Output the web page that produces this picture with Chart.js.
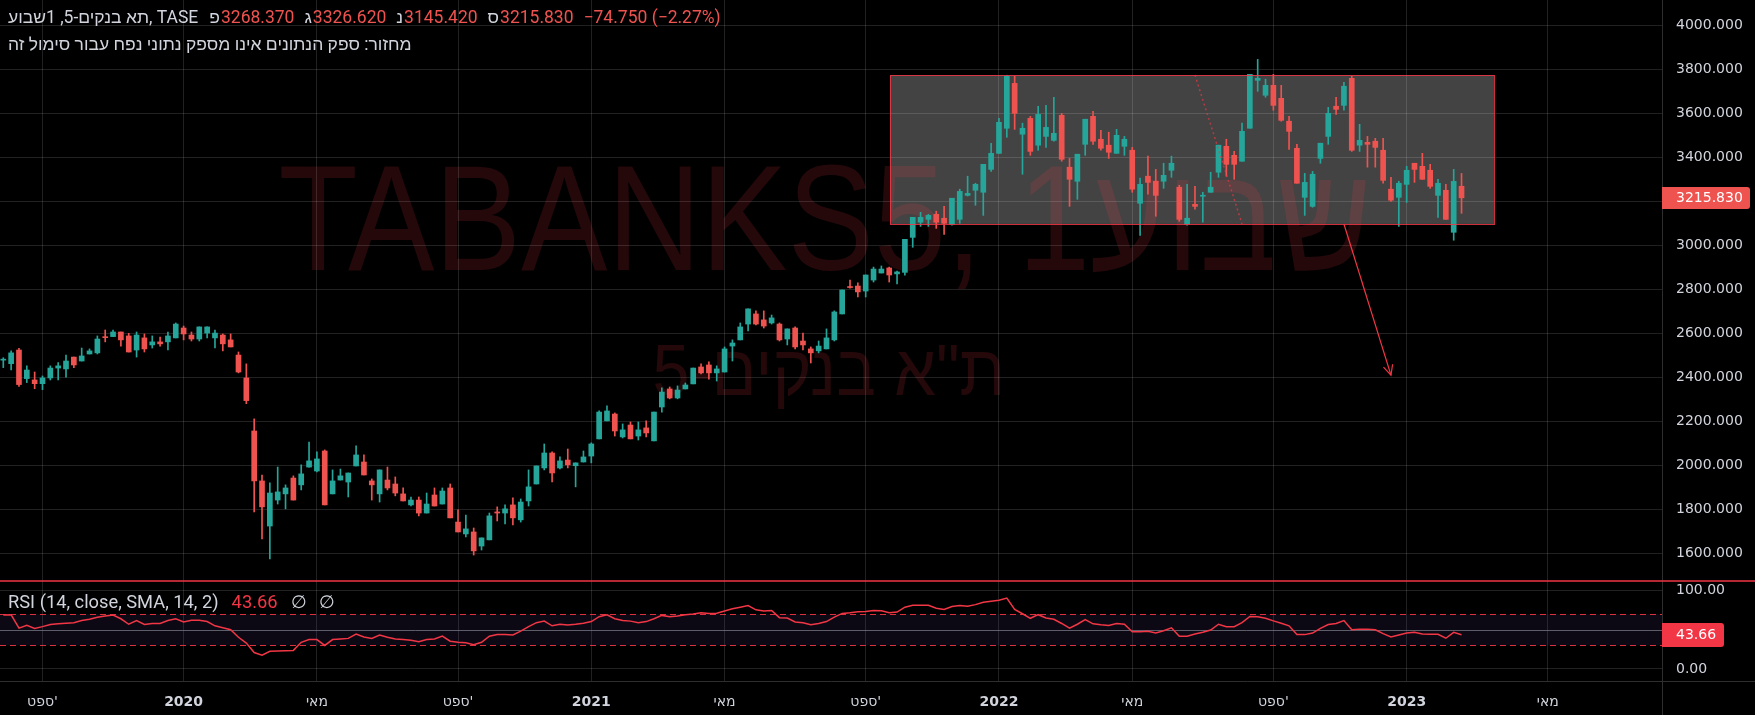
<!DOCTYPE html>
<html><head><meta charset="utf-8">
<script src="https://cdn.jsdelivr.net/npm/chart.js@4.4.1/dist/chart.umd.min.js"></script>
<style>
html,body{margin:0;padding:0;background:#000;overflow:hidden;width:1755px;height:715px}
canvas{position:absolute;left:0}
#c1{top:0}#c2{top:580px}
</style></head><body>
<canvas id="c1" width="1755" height="580"></canvas>
<canvas id="c2" width="1755" height="135"></canvas>
<script>
// ---------- data (weekly candles, index 0 = first visible week, Jul 2019) ----------
const OPEN=[2478,2462,2524,2394,2388,2371,2397,2442,2438,2492,2474,2506,2511,2583,2585,2606,2588,2524,2579,2547,
2561,2561,2579,2624,2592,2574,2601,2579,2592,2570,2501,2397,2156,1929,1724,1842,1870,1942,1911,1992,
1974,2065,1870,1933,1924,1997,2015,1929,1870,1933,1915,1870,1820,1842,1783,1865,1824,1897,1742,1688,
1697,1633,1661,1788,1783,1820,1752,1838,1915,1988,2056,1988,2024,1998,2015,2042,2120,2202,2233,2129,
2183,2133,2170,2111,2265,2347,2306,2347,2370,2447,2456,2420,2424,2542,2570,2642,2688,2661,2647,2642,
2574,2624,2565,2529,2520,2529,2570,2688,2811,2815,2792,2842,2874,2897,2870,2877,3036,3105,3118,3141,
3123,3095,3118,3227,3250,3241,3345,3418,3532,3736,3505,3577,3455,3495,3477,3591,3355,3291,3459,3586,
3482,3455,3418,3450,3432,3191,3314,3291,3291,3341,3264,3095,3186,3223,3241,3332,3450,3409,3382,3532,
3750,3682,3727,3668,3564,3441,3218,3177,3395,3495,3632,3636,3759,3455,3468,3473,3432,3255,3218,3277,
3373,3359,3341,3227,3250,3059,3268.37];
const HIGH=[2489,2520,2532,2452,2424,2406,2452,2467,2501,2492,2533,2529,2588,2615,2615,2606,2600,2606,2597,2588,
2583,2606,2647,2633,2606,2629,2629,2615,2597,2597,2515,2461,2211,1956,1920,1992,1911,1952,2002,2106,
2061,2070,1979,1983,1965,2088,2047,1938,1979,1992,1947,1897,1856,1856,1874,1897,1897,1915,1797,1774,
1715,1670,1783,1811,1820,1852,1847,1979,1997,2097,2061,2038,2074,2011,2065,2102,2247,2270,2238,2188,
2197,2197,2202,2242,2352,2356,2361,2374,2442,2461,2470,2452,2538,2570,2647,2711,2702,2702,2683,2647,
2620,2629,2601,2538,2565,2620,2702,2797,2842,2829,2865,2901,2906,2901,2883,3027,3127,3150,3141,3155,
3177,3214,3255,3314,3282,3368,3464,3577,3773,3768,3555,3586,3632,3636,3673,3600,3395,3414,3573,3609,
3523,3514,3527,3495,3445,3305,3405,3345,3373,3405,3273,3277,3268,3241,3332,3455,3482,3427,3555,3777,
3845,3755,3777,3727,3586,3459,3327,3336,3464,3627,3673,3741,3768,3550,3495,3486,3486,3309,3291,3359,
3373,3418,3368,3300,3277,3345,3326.62];
const LOW=[2444,2433,2358,2376,2348,2344,2388,2388,2401,2444,2474,2506,2506,2561,2585,2542,2515,2492,2515,2533,
2542,2524,2579,2570,2565,2565,2579,2533,2520,2538,2420,2280,1788,1665,1574,1824,1802,1842,1888,1992,
1970,1820,1870,1933,1856,1997,1956,1842,1833,1888,1861,1838,1815,1770,1783,1815,1824,1761,1697,1674,
1592,1615,1661,1747,1733,1729,1742,1815,1915,1979,1924,1983,1988,1902,2015,2011,2120,2202,2133,2124,
2120,2115,2129,2111,2242,2302,2302,2347,2370,2415,2392,2383,2424,2474,2570,2611,2638,2624,2642,2565,
2547,2529,2524,2465,2511,2529,2565,2688,2805,2765,2765,2833,2874,2833,2824,2864,2991,3086,3086,3077,
3050,3091,3100,3224,3182,3136,3336,3418,3491,3527,3323,3409,3432,3445,3473,3382,3177,3209,3409,3459,
3432,3395,3418,3409,3241,3045,3232,3132,3259,3309,3109,3091,3164,3105,3241,3309,3314,3300,3382,3532,
3700,3673,3614,3564,3436,3282,3136,3173,3373,3459,3595,3614,3427,3427,3355,3355,3282,3200,3086,3195,
3286,3300,3259,3127,3118,3023,3145.42];
const CLOSE=[2481,2511,2367,2433,2371,2397,2442,2452,2474,2456,2497,2520,2574,2580,2606,2570,2515,2592,2529,2561,
2552,2588,2642,2597,2574,2629,2629,2601,2552,2538,2424,2294,1929,1811,1874,1879,1897,1842,1961,2020,
2029,1820,1929,1952,1965,2047,1956,1911,1979,1897,1874,1838,1842,1783,1824,1815,1883,1761,1697,1711,
1611,1670,1770,1783,1802,1761,1833,1902,1997,2056,1965,2020,2002,2011,2038,2097,2242,2247,2156,2161,
2120,2161,2147,2242,2333,2306,2342,2365,2442,2420,2420,2438,2529,2556,2629,2711,2642,2633,2670,2570,
2620,2538,2547,2511,2542,2579,2697,2797,2808,2788,2865,2892,2892,2865,2879,3027,3127,3127,3136,3105,
3100,3214,3245,3236,3277,3368,3418,3559,3768,3600,3532,3427,3595,3536,3509,3391,3300,3414,3573,3473,
3441,3423,3500,3482,3255,3277,3286,3227,3318,3373,3118,3123,3177,3227,3264,3455,3368,3368,3518,3777,
3759,3727,3636,3568,3518,3282,3286,3323,3464,3600,3618,3723,3432,3477,3459,3445,3295,3205,3282,3341,
3345,3300,3268,3282,3118,3290.58,3215.83];
const RSI=[68.8,69,52,55.8,51.7,54,56.7,57.5,58.3,59,
61.7,63.3,66,67.5,68.8,64,57,61.7,56.7,58,
58,61.7,64,60,62,62,60.4,55,52.5,50,
40.4,33,21,17.5,22.5,23,23.3,23.7,34,37.5,
37.5,30,37.5,38.3,39,44.6,40.8,39,43.3,40.4,
38.3,37.5,36.7,34.6,37.5,38.3,42,35.4,34,33.3,
31,34,41.7,44,44,43.3,48.3,54,59,61,
55,57,56,57,58.3,60.4,66.7,69,64,61.7,
61,59,60.4,64,68.3,66.7,67.5,69,70,71.7,
70.8,71,74,76.7,78.8,80.8,75.4,73.8,74.6,65.4,
65,60,59,56.3,58,60.4,66,70.8,71.7,73,
73.3,74.6,74.2,71.7,72.5,78.8,81.3,81.3,81.3,77.5,
75.8,79.6,80.8,80,82,85,86.3,87.5,90.4,75.8,
70.4,64.6,69.2,65,63.3,58,52,57,63,57.5,
56.3,55.4,58,57,47.5,47.5,48,45.8,48.8,52.5,
41.7,41.7,44.6,46.7,49.6,57,53.8,53.8,59,67,
66.7,64.6,61.3,58.3,55,44,43.8,45.8,51.7,56.7,
58,61.7,50,50.8,50.8,50,45,40.8,43.3,45.8,
46.7,44.6,44.2,44.2,39.2,46.7,43.66];
const TICK_POS=[5,23,40,58,75,92,110,127,144,162,179,197];
const TICK_LABELS=["ספט'","2020","מאי","ספט'","2021","מאי","ספט'","2022","מאי","ספט'","2023","מאי"];
const YEAR_TICKS=[23,75,127,179];
const PRICE_TICKS=[1600,1800,2000,2200,2400,2600,2800,3000,3200,3400,3600,3800,4000];
const RSI_TICKS=[0,100];
const RSI_BANDS=[30,50,70];
const RECT=[113.1,190.14,3097,3774];          // drawing: index from, index to, price low, price high
const ARROW=[171.0,3097,177.0,2410];          // drawing: index, price -> index, price
const DOTTED=[152.0,3774,158.0,3097];
const TITLE="תא בנקים-5, 1שבוע, TASE";
const OHLC_LETTERS=["פ","ג","נ","ס"];
const CHANGE_TEXT="−74.750 (−2.27%)";
const VOLUME_NOTE="מחזור: ספק הנתונים אינו מספק נתוני נפח עבור סימול זה";
const WM_MAIN="TABANKS5, 1שבוע";
const WM_SUB="ת\"א בנקים-5";
const RSI_TITLE="RSI (14, close, SMA, 14, 2)";

// ---------- setup ----------
const XMIN=-0.42, XMAX=211.57;
const UP='#26a69a', DOWN='#ef5350';
const GRID='rgba(255,255,255,0.13)';
const AXIS_LINE='#2e2e2e';
const TXT='#d1d4dc';
const RED='#f23645';
const IDX=OPEN.map((_,i)=>i);
const COLORS=IDX.map(i=>CLOSE[i]>=OPEN[i]?UP:DOWN);
const N=OPEN.length;

function fitText(ctx,text,cx,baseline,font,width,color){
  ctx.save();
  ctx.font=font; ctx.textAlign='left'; ctx.textBaseline='alphabetic';
  const w=ctx.measureText(text).width;
  const sx=width/w;
  ctx.translate(cx-width/2,baseline); ctx.scale(sx,1);
  ctx.fillStyle=color; ctx.fillText(text,0,0);
  ctx.restore();
}

const pricePlugin={
  id:'pricePlugin',
  beforeDraw(chart){
    const c=chart.ctx, xs=chart.scales.x, ys=chart.scales.y;
    c.save();
    c.fillStyle='#000'; c.fillRect(0,0,chart.width,chart.height);
    const x0=xs.getPixelForValue(RECT[0]), x1=xs.getPixelForValue(RECT[1]);
    const y0=ys.getPixelForValue(RECT[3]), y1=ys.getPixelForValue(RECT[2]);
    c.fillStyle='rgba(112,112,112,0.6)';
    c.fillRect(x0,y0,x1-x0,y1-y0);
    fitText(c,WM_MAIN,825,270,'150px "Liberation Sans", Roboto, sans-serif',1093,'rgba(242,54,69,0.15)');
    fitText(c,WM_SUB,829,395,'72px "Liberation Sans", Roboto, sans-serif',353,'rgba(242,54,69,0.15)');
    c.restore();
  },
  afterDraw(chart){
    const c=chart.ctx, xs=chart.scales.x, ys=chart.scales.y;
    c.save();
    const x0=xs.getPixelForValue(RECT[0]), x1=xs.getPixelForValue(RECT[1]);
    const y0=ys.getPixelForValue(RECT[3]), y1=ys.getPixelForValue(RECT[2]);
    c.strokeStyle='rgba(242,54,69,0.85)'; c.lineWidth=1;
    c.strokeRect(Math.round(x0)+0.5,Math.round(y0)+0.5,Math.round(x1-x0),Math.round(y1-y0));
    c.setLineDash([2,3]); c.strokeStyle='rgba(242,54,69,0.65)'; c.lineWidth=1.5;
    c.beginPath(); c.moveTo(xs.getPixelForValue(DOTTED[0]),ys.getPixelForValue(DOTTED[1]));
    c.lineTo(xs.getPixelForValue(DOTTED[2]),ys.getPixelForValue(DOTTED[3])); c.stroke();
    c.setLineDash([]);
    const ax0=xs.getPixelForValue(ARROW[0]), ay0=ys.getPixelForValue(ARROW[1]);
    const ax1=xs.getPixelForValue(ARROW[2]), ay1=ys.getPixelForValue(ARROW[3]);
    c.strokeStyle=RED; c.lineWidth=1.2;
    c.beginPath(); c.moveTo(ax0,ay0); c.lineTo(ax1,ay1); c.stroke();
    const ang=Math.atan2(ay1-ay0,ax1-ax0);
    c.beginPath();
    c.moveTo(ax1-11*Math.cos(ang-0.45),ay1-11*Math.sin(ang-0.45)); c.lineTo(ax1,ay1);
    c.lineTo(ax1-11*Math.cos(ang+0.45),ay1-11*Math.sin(ang+0.45)); c.stroke();
    const last=CLOSE[N-1], py=ys.getPixelForValue(last);
    c.fillStyle='#ef5350';
    c.beginPath(); c.roundRect(1662,Math.round(py)-11,88,22,[0,3,3,0]); c.fill();
    c.fillStyle='#fff'; c.font='14px "DejaVu Sans", sans-serif'; c.textBaseline='middle'; c.textAlign='left';
    c.fillText(last.toFixed(3),1676,Math.round(py)+0.5);
    c.font='17.5px Roboto, "Liberation Sans", sans-serif';
    let x=8; const y=19;
    const put=(t,col,gap)=>{c.fillStyle=col; c.fillText(t,x,y); x+=c.measureText(t).width+gap;};
    put(TITLE,TXT,11);
    const vals=[OPEN[N-1],HIGH[N-1],LOW[N-1],CLOSE[N-1]];
    for(let k=0;k<4;k++){ put(OHLC_LETTERS[k],TXT,1); put(vals[k].toFixed(3),'#ef5350',10); }
    put(CHANGE_TEXT,'#ef5350',0);
    c.fillStyle=TXT; c.fillText(VOLUME_NOTE,8,46);
    c.restore();
  }
};

new Chart(document.getElementById('c1'),{
  type:'bar',
  data:{datasets:[
    {label:'body',data:IDX.map(i=>({x:i,y:[OPEN[i],CLOSE[i]]})),backgroundColor:COLORS,barThickness:5,grouped:false,minBarLength:1,borderWidth:0},
    {label:'wick',data:IDX.map(i=>({x:i,y:[LOW[i],HIGH[i]]})),backgroundColor:COLORS,barThickness:1,grouped:false,borderWidth:0}
  ]},
  options:{
    responsive:false,animation:false,devicePixelRatio:1,events:[],
    layout:{padding:0},
    plugins:{legend:{display:false},tooltip:{enabled:false}},
    scales:{
      x:{type:'linear',min:XMIN,max:XMAX,offset:false,
        afterBuildTicks:s=>{s.ticks=TICK_POS.map(v=>({value:v}));},
        afterFit:s=>{s.height=0;s.paddingLeft=0;s.paddingRight=0;},
        ticks:{display:false},grid:{color:GRID,drawTicks:false,offset:false},border:{display:false}},
      y:{position:'right',min:1478.6,max:4115,
        afterBuildTicks:s=>{s.ticks=PRICE_TICKS.map(v=>({value:v}));},
        afterFit:s=>{s.width=93;s.paddingTop=0;s.paddingBottom=0;},
        ticks:{padding:14,color:TXT,font:{family:'DejaVu Sans',size:14},callback:v=>Number(v).toFixed(3)},
        grid:{color:GRID,drawTicks:false},border:{color:AXIS_LINE}}
    }
  },
  plugins:[pricePlugin]
});

const rsiPlugin={
  id:'rsiPlugin',
  beforeDraw(chart){
    const c=chart.ctx; c.save(); c.fillStyle='#000'; c.fillRect(0,0,chart.width,chart.height); c.restore();
  },
  beforeDatasetsDraw(chart){
    const c=chart.ctx, ys=chart.scales.y, a=chart.chartArea;
    const yLo=ys.getPixelForValue(RSI_BANDS[0]), yMid=ys.getPixelForValue(RSI_BANDS[1]), yHi=ys.getPixelForValue(RSI_BANDS[2]);
    c.save();
    c.fillStyle='rgba(126,87,194,0.1)'; c.fillRect(a.left,yHi,a.right-a.left,yLo-yHi);
    c.strokeStyle='rgba(120,123,134,0.75)'; c.lineWidth=1;
    c.beginPath(); c.moveTo(a.left,Math.round(yMid)+0.5); c.lineTo(a.right,Math.round(yMid)+0.5); c.stroke();
    c.strokeStyle='rgba(242,54,69,0.9)'; c.setLineDash([6,4]);
    c.beginPath(); c.moveTo(a.left,Math.round(yHi)+0.5); c.lineTo(a.right,Math.round(yHi)+0.5);
    c.moveTo(a.left,Math.round(yLo)+0.5); c.lineTo(a.right,Math.round(yLo)+0.5); c.stroke();
    c.restore();
  },
  afterDraw(chart){
    const c=chart.ctx, ys=chart.scales.y, a=chart.chartArea;
    c.save();
    c.strokeStyle=RED; c.lineWidth=1.5;
    c.beginPath(); c.moveTo(0,1); c.lineTo(chart.width,1); c.stroke();
    c.strokeStyle=AXIS_LINE; c.lineWidth=1;
    c.beginPath(); c.moveTo(a.right,a.bottom+0.5); c.lineTo(chart.width,a.bottom+0.5);
    c.moveTo(a.right+0.5,a.bottom); c.lineTo(a.right+0.5,chart.height); c.stroke();
    const v=RSI[N-1], py=Math.round(ys.getPixelForValue(v));
    c.fillStyle=RED; c.beginPath(); c.roundRect(1662,py-12,62,24,[0,3,3,0]); c.fill();
    c.fillStyle='#fff'; c.font='14px "DejaVu Sans", sans-serif'; c.textBaseline='middle'; c.textAlign='left';
    c.fillText(v.toFixed(2),1676,py+0.5);
    c.font='18.3px Roboto, "Liberation Sans", sans-serif';
    let x=8; const y=23;
    const put=(t,col,gap)=>{c.fillStyle=col; c.fillText(t,x,y); x+=c.measureText(t).width+gap;};
    put(RSI_TITLE,TXT,13); put(v.toFixed(2),RED,13); put('∅',TXT,12); put('∅',TXT,0);
    c.restore();
  }
};

new Chart(document.getElementById('c2'),{
  type:'line',
  data:{datasets:[{label:'RSI',data:IDX.map(i=>({x:i,y:RSI[i]})),borderColor:RED,borderWidth:1.5,pointRadius:0,tension:0,fill:false}]},
  options:{
    responsive:false,animation:false,devicePixelRatio:1,events:[],
    layout:{padding:0},
    plugins:{legend:{display:false},tooltip:{enabled:false}},
    scales:{
      x:{type:'linear',min:XMIN,max:XMAX,offset:false,
        afterBuildTicks:s=>{s.ticks=TICK_POS.map(v=>({value:v}));},
        afterFit:s=>{s.height=34;s.paddingLeft=0;s.paddingRight=0;},
        ticks:{autoSkip:false,maxRotation:0,padding:13,color:TXT,
          font:c=>({family:'DejaVu Sans',size:14,weight:(c.tick&&YEAR_TICKS.includes(c.tick.value))?'bold':'normal'}),
          callback:v=>TICK_LABELS[TICK_POS.indexOf(v)]},
        grid:{color:GRID,drawTicks:false,offset:false},border:{color:AXIS_LINE}},
      y:{position:'right',min:-15.3,max:113.4,
        afterBuildTicks:s=>{s.ticks=RSI_TICKS.map(v=>({value:v}));},
        afterFit:s=>{s.width=93;s.paddingTop=0;s.paddingBottom=0;},
        ticks:{padding:14,color:TXT,font:{family:'DejaVu Sans',size:14},callback:v=>Number(v).toFixed(2)},
        grid:{color:GRID,drawTicks:false},border:{color:AXIS_LINE}}
    }
  },
  plugins:[rsiPlugin]
});
</script>
</body></html>
